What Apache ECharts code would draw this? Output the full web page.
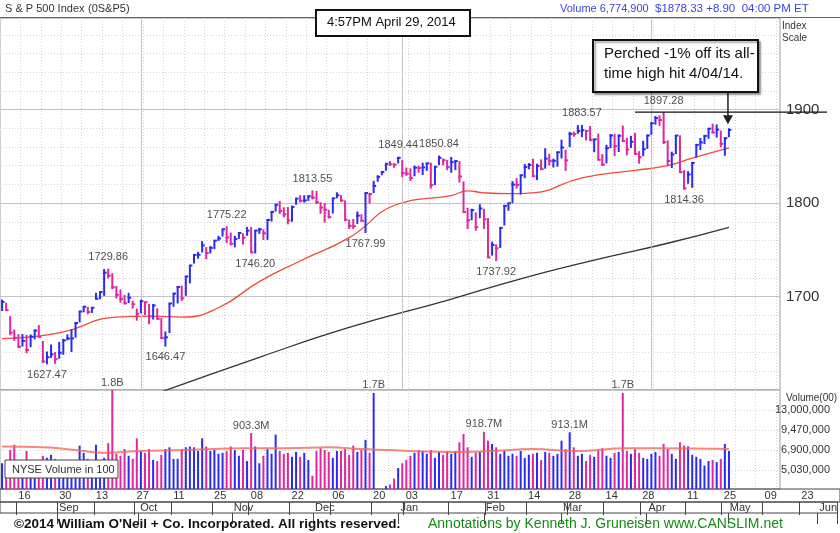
<!DOCTYPE html>
<html><head><meta charset="utf-8">
<script src="https://cdn.jsdelivr.net/npm/echarts@6/dist/echarts.min.js"></script>
<style>html,body{margin:0;padding:0;background:#fff}#c{width:840px;height:533px}</style>
</head><body><div id="c"></div>
<script>
// ---- DATA (S&P 500 daily, Aug 13 2013 - Apr 29 2014) ----
const months = ['Aug','Sep','Oct','Nov','Dec','Jan','Feb','Mar','Apr'];
const closes = [
1694.2,1685.4,1661.3,1655.8,1646.1,1652.4,1642.8,1657.0,1663.5,1656.8,1630.5,1635.0,1638.2,1633.0,
1639.8,1653.1,1655.1,1655.2,1671.7,1684.0,1689.1,1683.4,1688.0,1697.6,1704.8,1725.5,1722.3,1709.9,1701.8,1697.4,1692.8,1698.7,1691.8,1681.6,
1695.0,1693.9,1678.7,1690.5,1676.1,1655.5,1656.4,1692.6,1703.2,1710.1,1698.1,1721.5,1733.2,1744.5,1744.7,1754.7,1746.4,1752.1,1759.8,1762.1,1772.0,1763.3,1756.5,
1761.6,1767.9,1763.0,1770.5,1747.2,1770.6,1771.9,1767.7,1782.0,1790.6,1798.2,1791.5,1787.9,1781.4,1795.9,1804.8,1802.5,1802.8,1807.2,1805.8,
1800.9,1795.2,1792.8,1785.0,1805.1,1808.4,1802.6,1782.2,1775.5,1775.3,1786.5,1781.0,1810.7,1809.6,1818.3,1828.0,1833.3,1842.0,1841.4,1841.1,1848.4,
1832.0,1831.4,1826.8,1837.9,1837.5,1838.1,1842.4,1819.2,1838.9,1848.4,1845.9,1838.7,1843.8,1844.9,1828.5,1790.3,1781.6,1792.5,1774.2,1794.2,1782.6,
1741.9,1755.2,1751.6,1773.4,1797.0,1799.8,1819.8,1819.3,1829.8,1838.6,1840.8,1828.8,1839.8,1836.3,1847.6,1845.1,1845.2,1854.3,1859.5,
1845.7,1873.9,1873.8,1877.0,1878.0,1877.2,1867.6,1868.2,1846.3,1841.1,1858.8,1872.3,1860.8,1872.0,1866.5,1857.4,1865.6,1852.6,1849.0,1857.6,1872.3,
1885.5,1890.9,1888.8,1865.1,1845.0,1852.0,1872.2,1833.1,1815.7,1830.6,1843.0,1862.3,1864.9,1871.9,1879.6,1875.4,1878.6,1863.4,1869.4,1878.3];
const highs = [
1696.8,1693.4,1679.0,1664.7,1659.6,1659.8,1658.9,1659.4,1664.9,1669.5,1652.5,1641.2,1648.6,1640.6,
1651.4,1654.7,1659.5,1664.8,1672.4,1684.1,1689.1,1689.0,1688.0,1704.0,1705.5,1729.4,1729.86,1725.0,1711.4,1707.6,1701.7,1703.9,1695.5,1687.1,
1696.6,1693.9,1692.1,1691.9,1687.4,1676.9,1662.6,1692.6,1703.4,1711.0,1711.7,1721.8,1733.5,1745.3,1747.8,1759.3,1752.9,1753.9,1759.8,1764.9,1772.0,1775.22,1768.5,
1765.0,1768.8,1767.7,1774.5,1774.5,1770.8,1773.4,1771.9,1782.0,1791.0,1798.2,1802.3,1795.5,1795.7,1797.2,1804.8,1808.4,1808.4,1808.4,1813.55,
1813.0,1800.9,1799.8,1792.8,1805.1,1811.5,1808.4,1802.9,1782.2,1783.0,1791.0,1788.0,1811.0,1810.9,1823.8,1829.8,1833.3,1842.8,1844.9,1842.5,1849.44,
1845.9,1838.0,1837.2,1840.1,1840.0,1843.2,1843.2,1843.2,1839.3,1850.84,1847.7,1846.2,1849.3,1846.0,1844.9,1823.2,1795.0,1793.9,1790.0,1798.8,1793.9,
1784.0,1758.7,1755.8,1773.9,1798.0,1800.0,1823.5,1826.6,1830.0,1841.7,1842.8,1847.5,1842.1,1846.7,1858.7,1852.7,1847.5,1855.0,1867.9,
1857.0,1876.2,1876.5,1883.4,1883.57,1877.9,1882.4,1868.4,1874.4,1852.4,1862.3,1873.8,1874.1,1873.5,1883.0,1870.0,1871.9,1875.2,1855.6,1866.6,1873.0,
1885.8,1893.2,1893.8,1897.28,1867.0,1855.0,1872.4,1872.5,1835.1,1834.2,1844.0,1862.3,1869.6,1872.0,1879.8,1884.9,1884.1,1877.7,1870.4,1880.0];
const lows = [
1684.5,1684.5,1658.6,1652.6,1645.8,1646.5,1639.4,1645.8,1654.2,1656.6,1629.1,1627.47,1634.3,1628.0,
1633.4,1637.7,1653.1,1640.6,1656.0,1672.4,1683.1,1681.0,1682.4,1697.6,1697.2,1700.7,1719.3,1708.0,1697.9,1693.4,1691.5,1693.1,1687.1,1674.1,
1682.1,1680.3,1670.4,1675.4,1675.6,1655.0,1646.47,1660.9,1689.0,1692.6,1695.3,1700.8,1714.1,1735.2,1740.5,1747.1,1740.0,1746.2,1750.7,1759.5,1764.2,1757.2,1754.7,
1752.7,1761.6,1755.6,1765.0,1747.0,1746.20,1767.0,1760.6,1760.6,1780.2,1790.9,1788.4,1784.7,1777.2,1780.0,1798.2,1800.6,1800.5,1802.3,1803.8,
1799.0,1788.6,1779.1,1783.4,1788.9,1805.1,1801.4,1780.6,1772.3,1772.3,1777.7,1780.6,1767.99,1799.4,1810.6,1822.8,1829.8,1834.6,1839.8,1837.8,1842.4,
1827.7,1829.1,1823.7,1828.7,1832.4,1830.0,1834.4,1815.5,1819.2,1840.6,1840.3,1835.2,1832.4,1835.2,1822.0,1790.3,1772.3,1781.6,1770.5,1783.8,1772.3,
1741.9,1743.8,1737.92,1752.0,1776.0,1791.8,1800.0,1815.5,1809.2,1826.6,1836.1,1828.0,1824.6,1835.5,1836.8,1840.2,1838.1,1839.0,1847.7,
1834.4,1859.8,1871.0,1874.0,1870.6,1867.0,1866.3,1854.4,1845.8,1839.6,1842.4,1858.8,1850.3,1854.6,1865.6,1851.0,1858.9,1852.0,1842.1,1850.1,1858.0,
1873.0,1883.8,1882.7,1863.3,1839.6,1837.5,1852.4,1833.1,1814.36,1820.7,1816.3,1848.8,1856.7,1863.1,1868.8,1875.3,1870.0,1859.7,1850.6,1870.5];
// volume, millions of 100-share units
const volumes = [
5.6,5.8,6.9,7.5,5.3,5.6,6.8,4.8,4.7,5.5,6.3,6.1,6.4,6.0,
5.3,5.9,5.5,5.2,5.6,7.4,6.6,6.0,5.8,7.5,5.8,6.1,7.7,18.0,6.5,6.3,7.0,6.3,6.0,8.3,
6.8,6.6,7.0,5.9,5.8,6.4,7.0,7.2,6.0,6.0,7.0,7.2,7.3,7.2,6.8,8.3,7.3,6.8,6.9,6.5,6.6,6.8,7.3,
6.9,6.3,6.9,5.8,9.03,7.3,5.6,6.3,7.0,6.5,8.8,6.8,6.5,6.6,6.2,6.7,6.2,6.6,5.9,4.6,
6.8,7.1,6.9,6.7,6.1,6.8,6.8,7.0,6.4,7.4,6.7,6.9,8.1,6.6,17.0,3.6,3.7,3.9,4.0,4.4,5.2,
5.6,5.9,6.3,6.6,6.9,6.8,6.5,6.9,6.1,6.7,6.4,6.8,6.5,6.8,7.8,8.9,7.2,6.2,6.6,6.7,9.19,
8.0,7.6,7.2,6.5,6.8,6.3,6.5,6.3,6.8,6.1,6.4,6.5,6.6,5.9,6.7,6.6,6.3,6.5,8.0,
7.0,9.13,7.2,6.3,6.5,5.8,6.4,6.2,6.9,7.1,6.3,6.1,6.6,6.7,17.0,6.8,6.5,7.0,6.6,6.1,6.0,
6.5,6.7,6.3,7.6,7.0,6.5,6.0,7.8,7.4,7.3,6.4,6.2,6.0,5.4,5.8,5.9,5.7,6.0,7.6,6.8];
// moving averages: [bar index, value]
const ma50 = [[0,1655],[14,1661],[28,1678],[36,1679],[44,1678],[53,1688],[63,1716],[73,1738],[85,1763],[97,1799],[110,1808],[114,1813],[118,1811],[124,1810],[130,1811],[142,1827],[155,1835],[163,1840],[169,1848],[178,1859]];
const ma200 = [[39,1598],[63,1635],[85,1667],[109,1696],[127,1719],[146,1740],[163,1757],[178,1774]];
const volMa = [[0,7.3],[10,7.2],[18,6.9],[25,6.6],[33,6.8],[45,6.9],[60,7.1],[70,7.1],[80,7.2],[88,7.0],[95,6.9],[100,6.8],[110,6.7],[120,6.8],[130,7.0],[140,6.8],[146,6.9],[152,7.1],[160,7.1],[178,7.0]];
const priceNotes = [[11,'L'],[26,'H'],[40,'L'],[55,'H'],[62,'L'],[76,'H'],[89,'L'],[97,'H'],[107,'H'],[142,'H'],[121,'L'],[162,'H'],[167,'L']];
const volNotes = [[27,'1.8B'],[61,'903.3M'],[91,'1.7B'],[118,'918.7M'],[139,'913.1M'],[152,'1.7B']];
const priceTicks = [1700,1800,1900];
const volTicks = [5.03,6.9,9.47,13.0];
const dateTicks = [4,14,23,33,42,52,61,71,81,91,99,110,119,129,139,148,157,168,177,187,196];
const dateLabels = ['16','30','13','27','11','25','08','22','06','20','03','17','31','14','28','14','28','11','25','09','23'];
const monthTicks = [14,34,57,77,98,119,138,159,179,201];
const monthLabels = ['Sep','Oct','Nov','Dec','Jan','Feb','Mar','Apr','May','Jun'];
const NSLOT = 191, NALL = 206;
// ---------------------------------------------
const F = "'Liberation Sans', Arial, sans-serif";
const BLUE = '#2b2bf0', PINK = '#e0279c';
const up = closes.map((c,i)=> i===0 ? 1 : (c>=closes[i-1]?1:0));
const cats = Array.from({length:NSLOT},(_, i)=>i);
const allCats = Array.from({length:NALL},(_, i)=>i);
const barData = closes.map((c,i)=>[i,highs[i],lows[i],c,up[i]]);
const volData = volumes.map((v,i)=>[i,v,up[i]]);

const chart = echarts.init(document.getElementById('c'), null, {renderer:'canvas'});
const dotted = {show:true, lineStyle:{color:'#d4d4d4', type:[1,2], width:1}};
const option = {
  animation:false,
  textStyle:{fontFamily:F},
  grid:[
    {left:0,right:60,top:18,height:372,show:true,borderColor:'#999',borderWidth:1},
    {left:0,right:60,top:390,height:99,show:true,borderColor:'#999',borderWidth:1},
    {left:0,right:0,top:489,height:13,show:true,borderColor:'#444',borderWidth:1},
    {left:0,right:0,top:502,height:11,show:true,borderColor:'#444',borderWidth:1}
  ],
  xAxis:[
    {type:'category',gridIndex:0,data:cats,boundaryGap:true,axisLine:{show:false},axisTick:{show:false},axisLabel:{show:false},
     splitLine:{show:true,interval:4,lineStyle:{color:'#d4d4d4',type:[1,2]}}},
    {type:'category',gridIndex:1,data:cats,boundaryGap:true,axisLine:{show:false},axisTick:{show:false},axisLabel:{show:false},
     splitLine:{show:true,interval:4,lineStyle:{color:'#d4d4d4',type:[1,2]}}},
    {type:'category',gridIndex:2,data:allCats,position:'top',boundaryGap:true,axisLine:{show:false},
     axisTick:{show:true,inside:true,length:13,alignWithLabel:false,interval:(i)=>dateTicks.includes(i),lineStyle:{color:'#444'}},
     axisLabel:{show:true,inside:true,interval:(i)=>dateTicks.includes(i),formatter:(v)=>dateLabels[dateTicks.indexOf(+v)]||'',align:'left',verticalAlign:'top',margin:1,fontSize:11,color:'#333'}},
    {type:'category',gridIndex:3,data:allCats,position:'top',boundaryGap:true,axisLine:{show:false},
     axisTick:{show:true,inside:true,length:11,alignWithLabel:false,interval:(i)=>monthTicks.includes(i),lineStyle:{color:'#444'}},
     axisLabel:{show:true,inside:true,interval:(i)=>monthTicks.includes(i),formatter:(v)=>monthLabels[monthTicks.indexOf(+v)]||'',align:'left',verticalAlign:'top',margin:0,fontSize:11,color:'#333'}}
  ],
  yAxis:[
    {type:'value',gridIndex:0,position:'right',min:1600,max:1998,interval:20,axisLine:{show:false},axisTick:{show:false},
     axisLabel:{show:true,margin:6,fontSize:15,color:'#333',formatter:(v)=>priceTicks.includes(v)?String(v):''},
     splitLine:dotted},
    {type:'value',gridIndex:0,position:'right',min:1600,max:1998,interval:100,axisLine:{show:false},axisTick:{show:false},axisLabel:{show:false},
     splitLine:{show:true,lineStyle:{color:'#c4c4c4',width:1}}},
    {type:'log',gridIndex:1,position:'right',min:3.73,max:17.8,logBase:10,axisLine:{show:false},
     axisTick:{show:false,customValues:volTicks},
     axisLabel:{show:true,customValues:volTicks,align:'right',margin:50,fontSize:11,color:'#333',
       formatter:(v)=>Math.round(v*1e6).toLocaleString('en-US')},
     splitLine:{show:false}},
    {type:'value',gridIndex:2,show:false},
    {type:'value',gridIndex:3,show:false}
  ],
  series:[
    {type:'line',xAxisIndex:0,yAxisIndex:0,data:ma200,smooth:true,symbol:'none',lineStyle:{color:'#333',width:1.3},z:2},
    {type:'line',xAxisIndex:0,yAxisIndex:0,data:ma50,smooth:true,symbol:'none',lineStyle:{color:'#f04a3a',width:1.3},z:2,
     markLine:{silent:true,symbol:'none',label:{show:false},lineStyle:{color:'#c4c4c4',type:'solid',width:1},
       data:[{xAxis:34},{xAxis:98},{xAxis:159}]}},
    {type:'custom',xAxisIndex:0,yAxisIndex:0,data:barData,encode:{x:0,y:[1,2,3]},z:5,
     renderItem:(p,api)=>{
       const i=api.value(0), h=api.coord([i,api.value(1)]), l=api.coord([i,api.value(2)]), c=api.coord([i,api.value(3)]);
       const col = api.value(4)?BLUE:PINK;
       return {type:'group',children:[
         {type:'line',shape:{x1:h[0],y1:h[1],x2:l[0],y2:l[1]},style:{stroke:col,lineWidth:2}},
         {type:'line',shape:{x1:c[0]-1,y1:c[1],x2:c[0]+2.5,y2:c[1]},style:{stroke:col,lineWidth:2}}
       ]};
     }},
    {type:'scatter',xAxisIndex:0,yAxisIndex:0,symbolSize:0,z:6,
     data:priceNotes.map(([i,t])=>({value:[i,t==='H'?highs[i]:lows[i]],label:{position:t==='H'?'top':'bottom',distance:t==='H'?6:5}})),
     label:{show:true,formatter:(p)=>p.value[1].toFixed(2),fontSize:11,color:'#222'}},
    {type:'custom',xAxisIndex:1,yAxisIndex:2,data:volData,encode:{x:0,y:1},z:5,clip:true,
     renderItem:(p,api)=>{
       const i=api.value(0), t=api.coord([i,api.value(1)]);
       const bottom=p.coordSys.y+p.coordSys.height;
       return {type:'rect',shape:{x:t[0]-1,y:t[1],width:2,height:bottom-t[1]},style:{fill:api.value(2)?BLUE:PINK}};
     }},
    {type:'line',xAxisIndex:1,yAxisIndex:2,data:volMa,smooth:true,symbol:'none',lineStyle:{color:'#f26a5a',width:2,opacity:0.8},z:6,
     markLine:{silent:true,symbol:'none',label:{show:false},lineStyle:{color:'#d4d4d4',type:[1,2],width:1},
       data:volTicks.map(v=>({yAxis:v}))}},
    {type:'scatter',xAxisIndex:1,yAxisIndex:2,symbolSize:0,z:7,
     data:volNotes.map(([i,t])=>({value:[i,Math.min(volumes[i],17.8)],name:t})),
     label:{show:true,position:'top',distance:2,formatter:(p)=>p.name,fontSize:11,color:'#222'}}
  ]
};
chart.setOption(option);

// reference lines through the library's scales
const pk = 162, last = closes.length-1;
const a = chart.convertToPixel({gridIndex:0},[155,highs[pk]]);
const lastTop = chart.convertToPixel({gridIndex:0},[last,highs[last]]);
const T = (x,y,t,o)=>Object.assign({type:'text',x,y,z:60,style:Object.assign({text:t,font:'11px '+F,fill:'#333'},o||{})});
chart.setOption({graphic:[
  {type:'line',shape:{x1:0,y1:17.5,x2:840,y2:17.5},style:{stroke:'#666',lineWidth:1}},
  T(5,3,'S & P 500 Index'),
  T(88,3,'(0S&P5)'),
  T(560,3,'Volume 6,774,900',{fill:'#3a46e0'}),
  T(655,3,'$1878.33 +8.90  04:00 PM ET',{fill:'#3a46e0',font:'11.5px '+F}),
  T(782,21,'Index',{font:'10px '+F}),
  T(782,33,'Scale',{font:'10px '+F}),
  T(786,393,'Volume(00)',{font:'10px '+F}),
  {type:'rect',shape:{x:316,y:10,width:154,height:26},style:{fill:'#fff',stroke:'#111',lineWidth:2},z:50},
  T(327,16,'4:57PM April 29, 2014',{font:'13px '+F,fill:'#111'}),
  {type:'line',shape:{x1:a[0],y1:a[1],x2:827,y2:a[1]},style:{stroke:'#111',lineWidth:1.3},z:40},
  {type:'line',shape:{x1:lastTop[0]-1,y1:92,x2:lastTop[0]-1,y2:lastTop[1]-12},style:{stroke:'#222',lineWidth:1.5},z:40},
  {type:'polygon',shape:{points:[[lastTop[0]-6,lastTop[1]-13],[lastTop[0]+4,lastTop[1]-13],[lastTop[0]-1,lastTop[1]-4]]},style:{fill:'#222'},z:40},
  {type:'rect',shape:{x:593,y:40,width:165,height:52},style:{fill:'#fff',stroke:'#111',lineWidth:2,shadowColor:'rgba(0,0,0,0.35)',shadowOffsetX:2,shadowOffsetY:2,shadowBlur:2},z:50},
  T(604,46,'Perched -1% off its all-',{font:'15px '+F,fill:'#111'}),
  T(604,66,'time high hit 4/04/14.',{font:'15px '+F,fill:'#111'}),
  {type:'rect',shape:{x:5,y:460,width:113,height:18},style:{fill:'#fff',stroke:'#444',lineWidth:1},z:50},
  T(12,464,'NYSE Volume in 100',{font:'11px '+F}),
  T(14,517,"©2014 William O'Neil + Co. Incorporated. All rights reserved.",{font:'bold 13.5px '+F,fill:'#111'}),
  T(428,517,'Annotations by Kenneth J. Gruneisen www.CANSLIM.net',{font:'14px '+F,fill:'#138a13'})
]});
</script></body></html>
